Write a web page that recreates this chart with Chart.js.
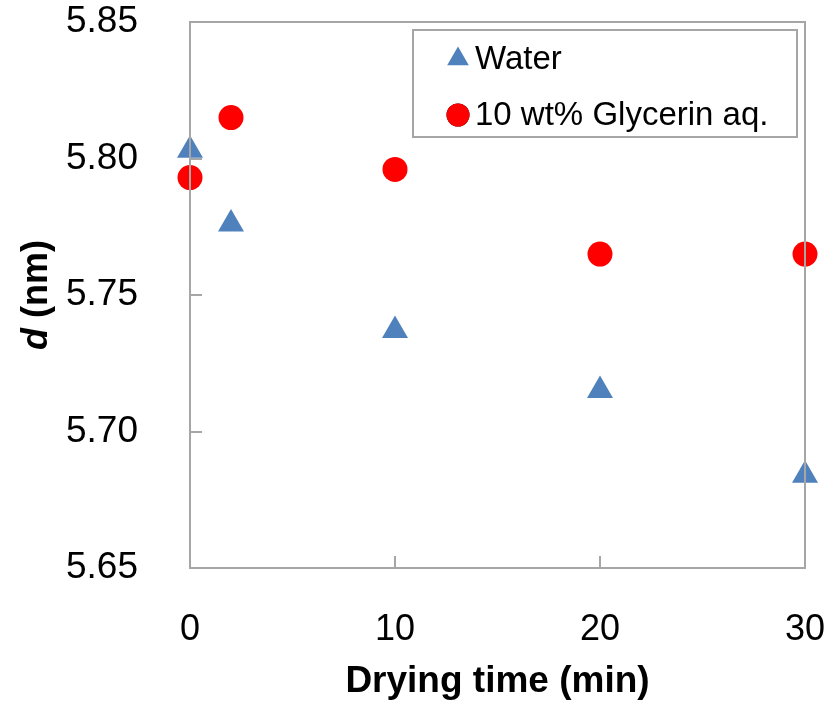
<!DOCTYPE html>
<html>
<head>
<meta charset="utf-8">
<script src="https://cdn.jsdelivr.net/npm/chart.js@4/dist/chart.umd.min.js"></script>
<style>
  html, body { margin: 0; padding: 0; background: #fff; }
  #wrap { width: 828px; height: 704px; }
</style>
</head>
<body>
<div id="wrap"><canvas id="c" width="828" height="704"></canvas></div>
<script>
const dryingTime = [0, 2, 10, 20, 30];
const waterValues = [5.803, 5.776, 5.737, 5.715, 5.684];
const glycerinValues = [5.793, 5.815, 5.796, 5.765, 5.765];
const xTicks = [0, 10, 20, 30];
const yTicks = [5.65, 5.70, 5.75, 5.80, 5.85];
const seriesLabels = ['Water', '10 wt% Glycerin aq.'];
const xTitle = 'Drying time (min)';
const yTitleItalic = 'd';
const yTitleRest = ' (nm)';

const GRAY = '#A6A6A6';
const FONT = 'Liberation Sans';

const toPoints = (xs, ys) => xs.map((x, i) => ({ x: x, y: ys[i] }));

const frame = {
  id: 'frame',
  afterDraw(chart) {
    const { ctx, chartArea: a, scales } = chart;
    ctx.save();
    ctx.strokeStyle = GRAY;
    ctx.lineWidth = 2;
    ctx.strokeRect(a.left, a.top, a.right - a.left, a.bottom - a.top);
    ctx.beginPath();
    yTicks.forEach(v => {
      const p = Math.round(scales.y.getPixelForValue(v));
      ctx.moveTo(a.left, p); ctx.lineTo(a.left + 12, p);
    });
    xTicks.forEach(v => {
      const p = Math.round(scales.x.getPixelForValue(v));
      ctx.moveTo(p, a.bottom); ctx.lineTo(p, a.bottom - 12);
    });
    ctx.stroke();
    ctx.restore();
  },
  afterDatasetsDraw(chart) {
    const { ctx } = chart;
    ctx.save();
    ctx.translate(37, 295);
    ctx.rotate(-Math.PI / 2);
    ctx.fillStyle = '#000';
    ctx.textBaseline = 'middle';
    const f1 = 'italic bold 36px ' + FONT;
    const f2 = 'bold 36px ' + FONT;
    ctx.font = f1; const w1 = ctx.measureText(yTitleItalic).width;
    ctx.font = f2; const w2 = ctx.measureText(yTitleRest).width;
    let x0 = -(w1 + w2) / 2;
    ctx.font = f1; ctx.textAlign = 'left'; ctx.fillText(yTitleItalic, x0, 0);
    ctx.font = f2; ctx.fillText(yTitleRest, x0 + w1, 0);
    ctx.restore();

    ctx.save();
    const bx = 413, by = 30, bw = 384, bh = 107;
    ctx.fillStyle = '#fff';
    ctx.fillRect(bx, by, bw, bh);
    ctx.strokeStyle = GRAY;
    ctx.lineWidth = 2;
    ctx.strokeRect(bx, by, bw, bh);
    ctx.font = '33px ' + FONT;
    ctx.textBaseline = 'middle';
    ctx.textAlign = 'left';
    chart.data.datasets.forEach((ds, i) => {
      const cy = i === 0 ? 59 : 115;
      Chart.helpers.drawPoint(ctx, {
        pointStyle: ds.pointStyle,
        radius: ds.pointStyle === 'triangle' ? 12.5 : 11.5,
        rotation: 0,
        borderWidth: 0
      }, 458, cy);
      ctx.fillStyle = ds.backgroundColor;
      ctx.fill();
      ctx.fillStyle = '#000';
      ctx.fillText(ds.label, 475, cy + 1);
    });
    ctx.restore();
  }
};

new Chart(document.getElementById('c'), {
  type: 'scatter',
  data: {
    datasets: [
      {
        label: seriesLabels[0],
        data: toPoints(dryingTime, waterValues),
        pointStyle: 'triangle',
        pointRadius: 15,
        pointHoverRadius: 15,
        backgroundColor: '#4F81BD',
        borderColor: '#4F81BD',
        borderWidth: 0,
        clip: false,
        order: 2
      },
      {
        label: seriesLabels[1],
        data: toPoints(dryingTime, glycerinValues),
        pointStyle: 'circle',
        pointRadius: 12.5,
        pointHoverRadius: 12.5,
        backgroundColor: '#FF0000',
        borderColor: '#FF0000',
        borderWidth: 0,
        clip: false,
        order: 1
      }
    ]
  },
  options: {
    responsive: false,
    animation: false,
    devicePixelRatio: 1,
    layout: { padding: { top: 22, right: 23, left: 0, bottom: 0 } },
    plugins: {
      legend: { display: false },
      tooltip: { enabled: false }
    },
    scales: {
      x: {
        type: 'linear',
        min: 0, max: 30,
        afterFit(s) { s.height = 136; s.paddingLeft = 0; s.paddingRight = 0; },
        afterBuildTicks(s) { s.ticks = xTicks.map(v => ({ value: v })); },
        grid: { display: false, drawTicks: false },
        border: { display: false },
        ticks: {
          padding: 40,
          color: '#000',
          font: { family: FONT, size: 36 },
          maxRotation: 0
        },
        title: {
          display: true,
          text: xTitle,
          color: '#000',
          font: { family: FONT, size: 37, weight: 'bold' },
          padding: { top: 0, bottom: 0 }
        }
      },
      y: {
        type: 'linear',
        min: 5.65, max: 5.85,
        afterFit(s) { s.width = 190; s.paddingTop = 0; s.paddingBottom = 0; },
        afterBuildTicks(s) { s.ticks = yTicks.map(v => ({ value: v })); },
        grid: { display: false, drawTicks: false },
        border: { display: false },
        ticks: {
          padding: 52,
          color: '#000',
          font: { family: FONT, size: 37 },
          callback: v => Number(v).toFixed(2)
        }
      }
    }
  },
  plugins: [frame]
});
</script>
</body>
</html>
